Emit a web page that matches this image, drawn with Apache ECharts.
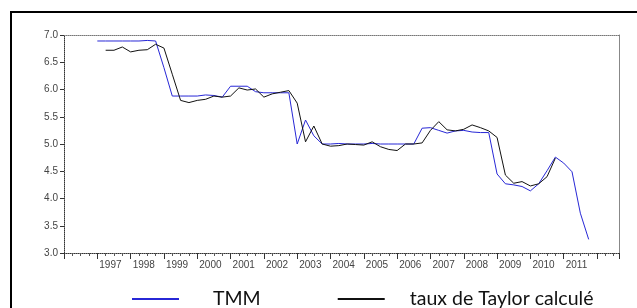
<!DOCTYPE html>
<html>
<head>
<meta charset="utf-8">
<script src="https://cdn.jsdelivr.net/npm/echarts@6/dist/echarts.min.js"></script>
<style>
    html, body { margin: 0; padding: 0; background: #fff; }
    #et1 { width: 637px; height: 308px; }
</style>
</head>
<body>
<div id="et1"></div>
<script>
// trimestres 1997T1 .. 2011T4
var quarters = [
    '1997Q1', '1997Q2', '1997Q3', '1997Q4', '1998Q1', '1998Q2', '1998Q3', '1998Q4',
    '1999Q1', '1999Q2', '1999Q3', '1999Q4', '2000Q1', '2000Q2', '2000Q3', '2000Q4',
    '2001Q1', '2001Q2', '2001Q3', '2001Q4', '2002Q1', '2002Q2', '2002Q3', '2002Q4',
    '2003Q1', '2003Q2', '2003Q3', '2003Q4', '2004Q1', '2004Q2', '2004Q3', '2004Q4',
    '2005Q1', '2005Q2', '2005Q3', '2005Q4', '2006Q1', '2006Q2', '2006Q3', '2006Q4',
    '2007Q1', '2007Q2', '2007Q3', '2007Q4', '2008Q1', '2008Q2', '2008Q3', '2008Q4',
    '2009Q1', '2009Q2', '2009Q3', '2009Q4', '2010Q1', '2010Q2', '2010Q3', '2010Q4',
    '2011Q1', '2011Q2', '2011Q3', '2011Q4'
];
var tmm = [
    6.89, 6.89, 6.89, 6.89, 6.89, 6.89, 6.90, 6.89,
    6.40, 5.88, 5.88, 5.88, 5.88, 5.90, 5.89, 5.86,
    6.06, 6.06, 6.06, 5.96, 5.94, 5.94, 5.94, 5.94,
    5.00, 5.44, 5.15, 5.00, 5.00, 5.01, 5.00, 5.00,
    5.00, 5.01, 5.00, 5.00, 5.00, 5.00, 5.00, 5.29,
    5.30, 5.25, 5.20, 5.24, 5.25, 5.22, 5.21, 5.21,
    4.45, 4.27, 4.25, 4.22, 4.14, 4.27, 4.51, 4.76,
    4.65, 4.49, 3.73, 3.25
];
var taylor = [
    null, 6.72, 6.72, 6.78, 6.69, 6.72, 6.73, 6.83,
    6.76, 6.28, 5.80, 5.76, 5.80, 5.82, 5.88, 5.86,
    5.88, 6.03, 5.99, 6.01, 5.86, 5.92, 5.95, 5.98,
    5.75, 5.04, 5.33, 5.00, 4.96, 4.97, 5.00, 4.99,
    4.98, 5.04, 4.95, 4.90, 4.88, 5.00, 5.00, 5.02,
    5.25, 5.41, 5.26, 5.24, 5.27, 5.35, 5.30, 5.24,
    5.12, 4.43, 4.28, 4.31, 4.23, 4.27, 4.40, 4.74,
    null, null, null, null
];
var yearLabels = ['1997', '1998', '1999', '2000', '2001', '2002', '2003', '2004',
    '2005', '2006', '2007', '2008', '2009', '2010', '2011'];

function qpos(q) {
    return parseInt(q.slice(0, 4), 10) + (parseInt(q.slice(5), 10) - 1) / 4;
}
function toPairs(vals) {
    return quarters.map(function (q, i) {
        return [qpos(q), vals[i]];
    });
}

~function () {
    var myChart = echarts.init(document.getElementById('et1'));
    var axisFont = {
        fontFamily: '"Liberation Sans Narrow", "Liberation Sans", sans-serif',
        fontSize: 10,
        color: '#444'
    };
    var option = {
        animation: false,
        backgroundColor: '#fff',
        graphic: [
            {
                type: 'rect',
                silent: true,
                z: -1,
                shape: {x: 11, y: 12, width: 700, height: 400},
                style: {fill: null, stroke: '#000', lineWidth: 2}
            }
        ],
        legend: {
            left: 127,
            top: 283,
            icon: 'rect',
            itemWidth: 47,
            itemHeight: 2,
            itemGap: 77,
            textStyle: {
                fontFamily: 'Lato, "Open Sans", sans-serif',
                fontSize: 19.5,
                lineHeight: 22,
                color: '#111'
            },
            data: [
                {name: 'TMM', textStyle: {padding: [0, 0, 0, 29]}},
                {name: 'taux de Taylor calculé', textStyle: {padding: [0, 0, 0, 20]}}
            ]
        },
        grid: {
            left: 64,
            right: 18,
            top: 35,
            bottom: 55
        },
        xAxis: [
            {
                type: 'value',
                min: 1996,
                max: 2012.66,
                interval: 1,
                position: 'bottom',
                splitLine: {show: false},
                axisLine: {lineStyle: {color: '#333', type: 'dotted', width: 1}},
                axisTick: {length: 6, lineStyle: {color: '#333'}},
                minorTick: {show: true, splitNumber: 4, length: 3, lineStyle: {color: '#555'}},
                axisLabel: Object.assign({
                    margin: 7,
                    align: 'left',
                    padding: [0, 0, 0, 2],
                    showMaxLabel: false,
                    formatter: function (v) {
                        var s = String(v);
                        return yearLabels.indexOf(s) >= 0 ? s : '';
                    }
                }, axisFont)
            },
            {
                type: 'value',
                min: 1996,
                max: 2012.66,
                position: 'top',
                splitLine: {show: false},
                axisLine: {show: true, lineStyle: {color: '#777', type: 'dotted', width: 1}},
                axisTick: {show: false},
                axisLabel: {show: false}
            }
        ],
        yAxis: [
            {
                type: 'value',
                min: 3,
                max: 7,
                interval: 0.5,
                splitLine: {show: false},
                axisLine: {show: true, lineStyle: {color: '#333', type: 'dotted', width: 1}},
                axisTick: {show: true, length: 4, lineStyle: {color: '#333'}},
                axisLabel: Object.assign({
                    margin: 6,
                    formatter: function (v) {
                        return v.toFixed(1);
                    }
                }, axisFont)
            },
            {
                type: 'value',
                min: 3,
                max: 7,
                position: 'right',
                splitLine: {show: false},
                axisLine: {show: true, lineStyle: {color: '#888', width: 1}},
                axisTick: {show: false},
                axisLabel: {show: false}
            }
        ],
        series: [
            {
                name: 'TMM',
                type: 'line',
                showSymbol: false,
                color: '#2727d6',
                lineStyle: {width: 1, color: '#2727d6'},
                data: toPairs(tmm)
            },
            {
                name: 'taux de Taylor calculé',
                type: 'line',
                showSymbol: false,
                color: '#111',
                lineStyle: {width: 1, color: '#111'},
                data: toPairs(taylor)
            }
        ]
    };
    myChart.setOption(option);
}();
</script>
</body>
</html>
